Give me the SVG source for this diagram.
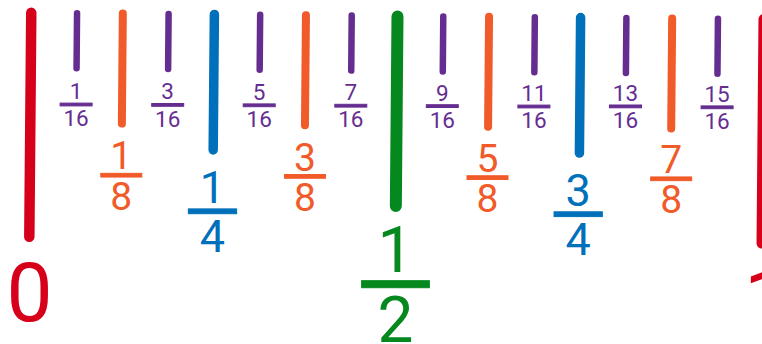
<svg xmlns="http://www.w3.org/2000/svg" width="762" height="344" viewBox="0 0 762 344">
<style>
text{font-family:Roboto,"Liberation Sans",sans-serif;font-weight:400;text-anchor:middle}
line{stroke-linecap:round}
.red{fill:#D7001B;stroke:#D7001B}
.pur{fill:#662D91;stroke:#662D91}
.org{fill:#F15A29;stroke:#F15A29}
.blu{fill:#0070BA;stroke:#0070BA}
.grn{fill:#05891F;stroke:#05891F}
text.red,text.pur,text.org,text.blu,text.grn,rect{stroke:none}
.t16{stroke-width:6.5}.t8{stroke-width:8}.t4{stroke-width:9.5}.t2{stroke-width:12}.t1{stroke-width:10.5}
.f16{font-size:22.5px}.f8{font-size:39px}.f4{font-size:45px}.f2{font-size:64px}.f1{font-size:82px}
</style>
<rect width="762" height="344" fill="#FFFFFF"/>
<g id="ticks" transform="rotate(0.5 395 125)">
<line id="tick-0" class="red t1" x1="30.3" y1="16" x2="30.3" y2="240"/>
<line id="tick-1-16" class="pur t16" x1="76.08" y1="16" x2="76.08" y2="71"/>
<line id="tick-1-8" class="org t8" x1="121.86" y1="16" x2="121.86" y2="126"/>
<line id="tick-3-16" class="pur t16" x1="167.64" y1="16" x2="167.64" y2="71"/>
<line id="tick-1-4" class="blu t4" x1="213.42" y1="16" x2="213.42" y2="151.5"/>
<line id="tick-5-16" class="pur t16" x1="259.2" y1="16" x2="259.2" y2="71"/>
<line id="tick-3-8" class="org t8" x1="304.98" y1="16" x2="304.98" y2="126"/>
<line id="tick-7-16" class="pur t16" x1="350.76" y1="16" x2="350.76" y2="71"/>
<line id="tick-1-2" class="grn t2" x1="396.54" y1="16.5" x2="396.54" y2="206"/>
<line id="tick-9-16" class="pur t16" x1="442.32" y1="16" x2="442.32" y2="71"/>
<line id="tick-5-8" class="org t8" x1="488.1" y1="16" x2="488.1" y2="126"/>
<line id="tick-11-16" class="pur t16" x1="533.88" y1="16" x2="533.88" y2="71"/>
<line id="tick-3-4" class="blu t4" x1="579.66" y1="16" x2="579.66" y2="151.5"/>
<line id="tick-13-16" class="pur t16" x1="625.44" y1="16" x2="625.44" y2="71"/>
<line id="tick-7-8" class="org t8" x1="671.22" y1="16" x2="671.22" y2="126"/>
<line id="tick-15-16" class="pur t16" x1="717" y1="16" x2="717" y2="71"/>
<line id="tick-1" class="red t1" x1="762.78" y1="16" x2="762.78" y2="240"/>
</g>
<g id="label-0"><text class="red f1" x="29.5" y="321">0</text></g>
<g id="label-1"><text class="red f1" x="767" y="327">1</text></g>
<g id="label-1-16"><text class="pur f16" x="76.1" y="99">1</text><rect class="pur" x="60.1" y="103.1" width="32" height="2.8"/><text class="pur f16" x="76.1" y="126.2">16</text></g>
<g id="label-3-16"><text class="pur f16" x="167.7" y="99.4">3</text><rect class="pur" x="151.7" y="103.5" width="32" height="2.8"/><text class="pur f16" x="167.7" y="126.6">16</text></g>
<g id="label-5-16"><text class="pur f16" x="259.2" y="99.8">5</text><rect class="pur" x="243.2" y="103.9" width="32" height="2.8"/><text class="pur f16" x="259.2" y="127">16</text></g>
<g id="label-7-16"><text class="pur f16" x="350.8" y="100.2">7</text><rect class="pur" x="334.8" y="104.3" width="32" height="2.8"/><text class="pur f16" x="350.8" y="127.4">16</text></g>
<g id="label-9-16"><text class="pur f16" x="442.3" y="100.6">9</text><rect class="pur" x="426.3" y="104.7" width="32" height="2.8"/><text class="pur f16" x="442.3" y="127.8">16</text></g>
<g id="label-11-16"><text class="pur f16" x="533.9" y="101">11</text><rect class="pur" x="517.9" y="105.1" width="32" height="2.8"/><text class="pur f16" x="533.9" y="128.2">16</text></g>
<g id="label-13-16"><text class="pur f16" x="625.5" y="100.9">13</text><rect class="pur" x="609.5" y="105" width="32" height="2.8"/><text class="pur f16" x="625.5" y="128.1">16</text></g>
<g id="label-15-16"><text class="pur f16" x="717.1" y="101.8">15</text><rect class="pur" x="701.1" y="105.9" width="32" height="2.8"/><text class="pur f16" x="717.1" y="129">16</text></g>
<g id="label-1-8"><text class="org f8" x="121.3" y="169.3">1</text><rect class="org" x="100.8" y="173.35" width="41" height="3.7"/><text class="org f8" x="121.3" y="209.5">8</text></g>
<g id="label-3-8"><text class="org f8" x="305" y="170.5">3</text><rect class="org" x="284.5" y="174.55" width="41" height="3.7"/><text class="org f8" x="305" y="210.7">8</text></g>
<g id="label-5-8"><text class="org f8" x="487.5" y="171.7">5</text><rect class="org" x="467" y="175.75" width="41" height="3.7"/><text class="org f8" x="487.5" y="211.9">8</text></g>
<g id="label-7-8"><text class="org f8" x="671.2" y="172.9">7</text><rect class="org" x="650.7" y="176.95" width="41" height="3.7"/><text class="org f8" x="671.2" y="213.1">8</text></g>
<g id="label-1-4"><text class="blu f4" x="212.5" y="203.3">1</text><rect class="blu" x="188.35" y="208.9" width="48.3" height="4.8"/><text class="blu f4" x="212.5" y="252.3">4</text></g>
<g id="label-3-4"><text class="blu f4" x="578.2" y="206.2">3</text><rect class="blu" x="554.05" y="211.8" width="48.3" height="4.8"/><text class="blu f4" x="578.2" y="255.2">4</text></g>
<g id="label-1-2"><text class="grn f2" x="395.5" y="272.3">1</text><rect class="grn" x="361.65" y="280.7" width="67.7" height="7"/><text class="grn f2" x="395.5" y="341.5">2</text></g>
</svg>
